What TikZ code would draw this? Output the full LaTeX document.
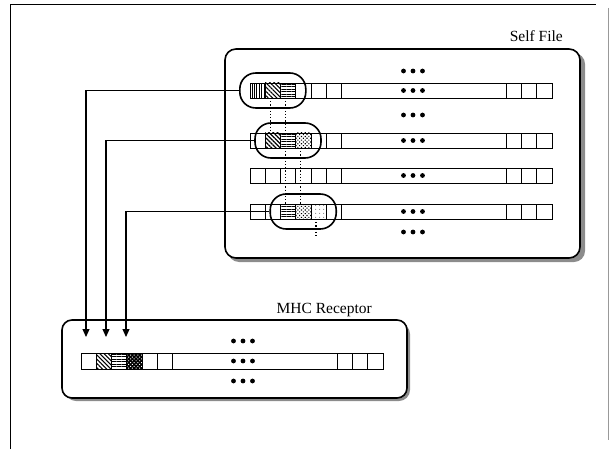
\documentclass[tikz,border=0pt]{standalone}
\usepackage{fontspec}
\setmainfont{Liberation Serif}
\usetikzlibrary{positioning, patterns, patterns.meta, arrows.meta, calc}

\newcommand\dotrow[1]{\foreach \dx in {-9.5,0,9.5} {\fill ($(#1)+(\dx,0)$) circle (2.4pt);}}

\begin{document}
\begin{tikzpicture}[x=1pt, y=1pt, >={Triangle[width=7pt,length=8pt]}]
        \tikzstyle{panel} = [draw=black, line width=1.6pt, rounded corners=11pt, fill=white, inner sep=0pt]
        \tikzstyle{shade} = [draw=none, fill=black!45, rounded corners=11pt]
        \tikzstyle{cell} = [draw=black, line width=0.6pt, minimum width=15.2pt, minimum height=15pt, inner sep=0pt, outer sep=0pt]
        \tikzstyle{longcell} = [cell, minimum width=165pt]
        \tikzstyle{window} = [draw=black, line width=1.6pt, rounded corners=16pt, minimum width=66pt, minimum height=35pt]
        \tikzstyle{conn} = [->, line width=1.2pt]
        \tikzstyle{link} = [line width=1.2pt, dotted]
        \tikzstyle{lbl} = [font=\fontsize{15.5}{18}\selectfont, inner sep=0pt, anchor=base east]
        \tikzstyle{vert} = [pattern={Lines[angle=90, distance=2.4pt, line width=0.8pt]}]
        \tikzstyle{diag} = [pattern={Lines[angle=-45, distance=3pt, line width=1.1pt]}]
        \tikzstyle{horiz} = [pattern={Lines[angle=0, distance=2.5pt, line width=0.8pt]}]
        \tikzstyle{checks} = [pattern={Dots[angle=45, distance=2.6pt, radius=0.8pt]}]
        \tikzstyle{sparse} = [pattern={Dots[distance=4pt, radius=0.5pt]}]

        \useasboundingbox (0,0) rectangle (609,-449);

        % Outer frame
        \draw [line width=0.8pt] (10,-449) -- (10,-4) -- (596,-4);
        \draw [line width=0.8pt, draw=black!40] (608,-8) -- (608,-440);

        % Self file
        \fill [shade] (228,-53) rectangle (585,-262);
        \node (self) [panel, minimum width=355pt, minimum height=209pt] at (402.5,-153.5) {};
        \node (selflbl) [lbl] at (563,-42) {Self File};

        \foreach \r/\y in {1/-90.5, 2/-140.5, 3/-175.5, 4/-211.5} {
            \node (s\r-1) [cell] at (257.6,\y) {};
            \foreach \c [count=\p] in {2,...,6} { \node (s\r-\c) [cell, right=0pt of s\r-\p] {}; }
            \node (s\r-7) [longcell, right=0pt of s\r-6] {};
            \foreach \c [count=\p from 7] in {8,9,10} { \node (s\r-\c) [cell, right=0pt of s\r-\p] {}; }
        }
        \foreach \n/\pat in {s1-1/vert, s1-2/diag, s1-3/horiz, s2-2/diag, s2-3/horiz, s2-4/checks, s4-3/horiz, s4-4/checks, s4-5/sparse}
            \draw [cell, \pat] (\n.south west) rectangle (\n.north east);

        \foreach \y in {-71, -90.5, -115, -140.5, -175.5, -211.5, -232} { \dotrow{413,\y} }

        % Matching windows
        \node (w1) [window] at (s1-2) {};
        \node (w2) [window] at (s2-3) {};
        \node (w3) [window] at (s4-4) {};

        \draw [link] ([xshift=-2.5pt]s1-2.south) -- ([xshift=-2.5pt]s2-2.north);
        \draw [link] ([xshift=-2.5pt]s1-3.south) -- ([xshift=-2.5pt]s2-3.north);
        \draw [link] ([xshift=-2.5pt]s2-3.south) -- ([xshift=-2.5pt]s4-3.north);
        \draw [link] ([xshift=-2.5pt]s2-4.south) -- ([xshift=-2.5pt]s4-4.north);
        \coordinate (tail) at ($(s4-5.south)+(-2.5,-19)$);
        \draw [link] ([xshift=-2.5pt]s4-5.south) -- (tail);

        % MHC receptor
        \fill [shade] (65,-323) rectangle (410,-401);
        \node (mhc) [panel, minimum width=345pt, minimum height=78pt, rounded corners=10pt] at (234.5,-359) {};
        \node (mhclbl) [lbl] at (372,-313) {MHC Receptor};

        \node (m-1) [cell, minimum height=16pt] at (88.6,-361) {};
        \foreach \c [count=\p] in {2,...,6} { \node (m-\c) [cell, minimum height=16pt, right=0pt of m-\p] {}; }
        \node (m-7) [longcell, minimum height=16pt, right=0pt of m-6] {};
        \foreach \c [count=\p from 7] in {8,9,10} { \node (m-\c) [cell, minimum height=16pt, right=0pt of m-\p] {}; }
        \draw [cell, diag] (m-2.south west) rectangle (m-2.north east);
        \draw [cell, horiz] (m-3.south west) rectangle (m-3.north east);
        \draw [cell, preaction={fill=black}, pattern={Dots[angle=45, distance=2.6pt, radius=0.7pt]}, pattern color=white] (m-4.south west) rectangle (m-4.north east);

        \foreach \y in {-341, -361, -381} { \dotrow{243,\y} }

        % Presented to the receptor
        \coordinate (t1) at (86,-337);
        \coordinate (t2) at (106,-337);
        \coordinate (t3) at (126,-337);
        \draw [conn] (w1.west) -| (t1);
        \draw [conn] (w2.west) -| (t2);
        \draw [conn] (w3.west) -| (t3);
\end{tikzpicture}
\end{document}
